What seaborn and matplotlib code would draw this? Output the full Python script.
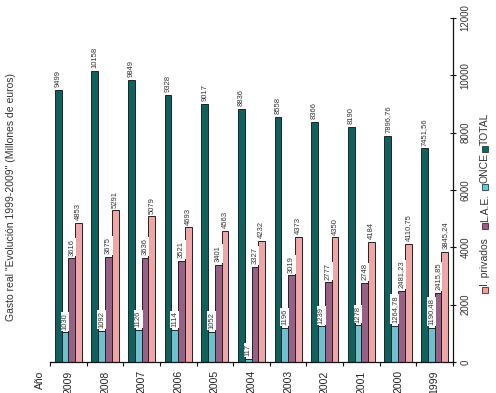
import matplotlib
matplotlib.use('Agg')
import matplotlib.pyplot as plt
import seaborn as sns
import pandas as pd
from matplotlib.patches import Rectangle

years = ['2009', '2008', '2007', '2006', '2005', '2004', '2003', '2002', '2001', '2000', '1999']
total = [9499, 10158, 9849, 9328, 9017, 8836, 8558, 8366, 8190, 7896.76, 7451.56]
once = [1030, 1092, 1126, 1114, 1052, 117, 1196, 1239, 1278, 1264.78, 1190.48]
lae = [3616, 3675, 3636, 3521, 3401, 3327, 3019, 2777, 2748, 2481.23, 2415.85]
priv = [4853, 5291, 5079, 4693, 4563, 4232, 4373, 4350, 4184, 4110.75, 3845.24]

total_lbl = ['9499', '10158', '9849', '9328', '9017', '8836', '8558', '8366', '8190', '7896,76', '7451,56']
once_lbl = ['1030', '1092', '1126', '1114', '1052', '117', '1196', '1239', '1278', '1264,78', '1190,48']
lae_lbl = ['3616', '3675', '3636', '3521', '3401', '3327', '3019', '2777', '2748', '2481,23', '2415,85']
priv_lbl = ['4853', '5291', '5079', '4693', '4563', '4232', '4373', '4350', '4184', '4110,75', '3845,24']

series = ['TOTAL', 'ONCE', 'L.A.E.', 'I. privados']
colors = ['#006F6A', '#5ECBDF', '#A0588A', '#FA9C9A']
yticks = [0, 2000, 4000, 6000, 8000, 10000, 12000]
title = 'Gasto real "Evolución 1999-2009" (Millones de euros)'

df = pd.DataFrame({
    'Año': years * 4,
    'serie': sum([[s] * len(years) for s in series], []),
    'valor': total + once + lae + priv,
})

sns.set_theme(style='white')
plt.rcParams['font.family'] = ['Liberation Sans', 'DejaVu Sans']

W, H = 496, 393
fig = plt.figure(figsize=(W / 100, H / 100), dpi=100)
ax = fig.add_axes([50 / W, 1 - 362 / H, 403 / W, 344 / H])

sns.barplot(data=df, x='Año', y='valor', hue='serie', order=years, hue_order=series,
            palette=dict(zip(series, colors)), width=0.74, errorbar=None,
            edgecolor='#222222', linewidth=0.7, ax=ax, legend=False)

for cont, lbls in zip(ax.containers, [total_lbl, once_lbl, lae_lbl, priv_lbl]):
    ax.bar_label(cont, labels=lbls, rotation=90, padding=2, fontsize=5.5, color='#333333',
                 bbox=dict(fc='white', ec='none', pad=0.6))

ax.set_xlim(-0.5, 10.5)
ax.set_ylim(0, 12000)
ax.set_xlabel('')
ax.set_ylabel('')
for s in ['left', 'top']:
    ax.spines[s].set_visible(False)
for s in ['right', 'bottom']:
    ax.spines[s].set_color('#111111')
    ax.spines[s].set_linewidth(0.9)

ax.yaxis.tick_right()
ax.set_yticks(yticks)
ax.set_yticklabels([str(v) for v in yticks], rotation=90, va='center')
ax.tick_params(axis='y', direction='inout', length=5, width=0.8, pad=3, labelsize=7,
               labelcolor='#333333', color='#111111')

ax.set_xticks(range(len(years)))
ax.set_xticklabels(years, rotation=90)
ax.set_xticks([i - 0.5 for i in range(len(years) + 1)], minor=True)
ax.tick_params(axis='x', which='major', length=0, pad=6, labelsize=7.5, labelcolor='#222222')
ax.tick_params(axis='x', which='minor', length=3, width=0.8, direction='out', color='#111111', bottom=True)

fig.text(11 / W, 1 - 197 / H, title, rotation=90, ha='center', va='center', fontsize=7.5, color='#333333')
fig.text(40 / W, 1 - 380 / H, 'Año', rotation=90, ha='center', va='center', fontsize=7.5, color='#222222')

# manual rotated legend
leg_x = 485
leg_sq = [290, 226, 187, 149]
leg_names = ['I. privados', 'L.A.E.', 'ONCE', 'TOTAL']
leg_cols = [colors[3], colors[2], colors[1], colors[0]]
for ysq, name, c in zip(leg_sq, leg_names, leg_cols):
    fig.patches.append(Rectangle(((leg_x - 3) / W, 1 - (ysq + 3) / H), 6 / W, 6 / H,
                                 transform=fig.transFigure, facecolor=c, edgecolor='#333333',
                                 linewidth=0.6))
    fig.text(leg_x / W, 1 - (ysq - 4) / H, name, rotation=90, ha='center', va='bottom',
             fontsize=7.5, color='#333333')

fig.savefig('out.png', dpi=100)
